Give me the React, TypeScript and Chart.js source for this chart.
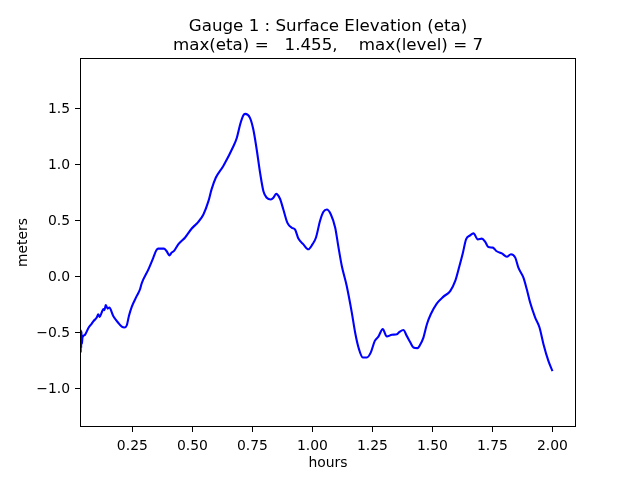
import React, { useEffect, useRef } from "react";
import { Chart, registerables } from "chart.js";

Chart.register(...registerables);

const hours = [
  0.032, 0.033, 0.034, 0.035, 0.036, 0.037, 0.038, 0.04, 0.042, 0.046, 0.053, 0.067, 0.081, 0.0875,
  0.1017, 0.108, 0.114, 0.1225, 0.129, 0.134, 0.139, 0.1475, 0.154, 0.171, 0.192, 0.206, 0.217,
  0.227, 0.236, 0.2475, 0.268, 0.282, 0.289, 0.317, 0.3375, 0.35, 0.358, 0.382, 0.395, 0.404,
  0.414, 0.424, 0.442, 0.47, 0.4975, 0.525, 0.546, 0.567, 0.58, 0.5975, 0.629, 0.671, 0.685,
  0.699, 0.712, 0.72, 0.74, 0.754, 0.768, 0.782, 0.796, 0.81, 0.827, 0.8375, 0.849, 0.865, 0.879,
  0.896, 0.914, 0.928, 0.9417, 0.9625, 0.983, 1.0, 1.015, 1.032, 1.046, 1.06, 1.077, 1.095, 1.108,
  1.1225, 1.143, 1.164, 1.178, 1.192, 1.21, 1.227, 1.243, 1.26, 1.275, 1.293, 1.31, 1.331, 1.352,
  1.3625, 1.379, 1.393, 1.407, 1.421, 1.4375, 1.446, 1.4625, 1.477, 1.493, 1.518, 1.546, 1.574,
  1.595, 1.6125, 1.627, 1.64, 1.657, 1.671, 1.689, 1.706, 1.72, 1.733, 1.752, 1.766, 1.789, 1.81,
  1.827, 1.845, 1.858, 1.879, 1.893, 1.907, 1.928, 1.946, 1.9625, 1.983, 2.0,
];

const eta = [
  -0.48, -0.66, -0.47, -0.68, -0.5, -0.64, -0.49, -0.6, -0.55, -0.53, -0.52, -0.46, -0.42, -0.4,
  -0.366, -0.337, -0.36, -0.32, -0.29, -0.3, -0.255, -0.286, -0.277, -0.355, -0.415, -0.447, -0.455,
  -0.435, -0.35, -0.27, -0.175, -0.113, -0.06, 0.065, 0.17, 0.235, 0.25, 0.25, 0.22, 0.19,
  0.215, 0.23, 0.29, 0.35, 0.43, 0.49, 0.556, 0.675, 0.78, 0.884, 0.99, 1.166, 1.24,
  1.36, 1.44, 1.455, 1.42, 1.315, 1.137, 0.93, 0.764, 0.705, 0.69, 0.705, 0.74, 0.696, 0.6,
  0.48, 0.437, 0.42, 0.34, 0.288, 0.244, 0.288, 0.35, 0.5, 0.58, 0.6, 0.556, 0.437, 0.27,
  0.095, -0.084, -0.32, -0.5, -0.634, -0.723, -0.723, -0.68, -0.575, -0.536, -0.47, -0.536, -0.52, -0.515,
  -0.495, -0.477, -0.53, -0.585, -0.634, -0.64, -0.62, -0.545, -0.426, -0.337, -0.241, -0.179, -0.129,
  -0.039, 0.095, 0.214, 0.333, 0.369, 0.387, 0.333, 0.34, 0.31, 0.264, 0.259, 0.229, 0.208, 0.178,
  0.2, 0.17, 0.08, -0.009, -0.113, -0.232, -0.366, -0.455, -0.604, -0.754, -0.845,
];

const xTicks = [0.25, 0.5, 0.75, 1.0, 1.25, 1.5, 1.75, 2.0];
const yTicks = [-1.0, -0.5, 0.0, 0.5, 1.0, 1.5];
const titleLines = [
  "Gauge 1 : Surface Elevation (eta)",
  "max(eta) =   1.455,    max(level) = 7",
];
const xLabel = "hours";
const yLabel = "meters";
const xRange = [0.032, 2.098];
const yRange = [-1.345, 1.955];

const FONT = "'DejaVu Sans', sans-serif";

export default function App() {
  const ref = useRef<HTMLCanvasElement | null>(null);

  useEffect(() => {
    if (!ref.current) return;
    const framePlugin = {
      id: "frameAndTitle",
      afterDraw(chart: any) {
        const { ctx, chartArea } = chart;
        ctx.save();
        ctx.strokeStyle = "#000";
        ctx.lineWidth = 1;
        const l = Math.round(chartArea.left) + 0.5;
        const t = Math.round(chartArea.top) + 0.5;
        const r = Math.round(chartArea.right) - 0.5;
        const b = Math.round(chartArea.bottom) - 0.5;
        ctx.strokeRect(l, t, r - l, b - t);
        ctx.fillStyle = "#000";
        ctx.font = `16.7px ${FONT}`;
        ctx.textAlign = "center";
        ctx.textBaseline = "alphabetic";
        const cx = (chartArea.left + chartArea.right) / 2;
        ctx.fillText(titleLines[0], cx, 30.5);
        ctx.fillText(titleLines[1], cx, 50);
        ctx.restore();
      },
    };

    const chart = new Chart(ref.current, {
      type: "line",
      data: {
        datasets: [
          {
            data: hours.map((h, i) => ({ x: h, y: eta[i] })),
            borderColor: "#0000ff",
            borderWidth: 2.1,
            pointRadius: 0,
            fill: false,
            cubicInterpolationMode: "monotone",
          },
        ],
      },
      options: {
        animation: false,
        responsive: false,
        layout: { padding: { top: 58, right: 64, left: 0, bottom: 0 } },
        plugins: { legend: { display: false }, tooltip: { enabled: false }, title: { display: false } },
        scales: {
          x: {
            type: "linear",
            min: xRange[0],
            max: xRange[1],
            afterBuildTicks: (s: any) => {
              s.ticks = xTicks.map((v) => ({ value: v }));
            },
            afterFit: (s: any) => {
              s.height = 53;
            },
            grid: { drawOnChartArea: false, drawTicks: true, tickLength: 5, tickColor: "#000", tickWidth: 1 },
            border: { display: false },
            ticks: {
              color: "#000",
              font: { family: FONT, size: 13.9 },
              padding: 6,
              maxRotation: 0,
              autoSkip: false,
              callback: (v: any) => Number(v).toFixed(2),
            },
            title: {
              display: true,
              text: xLabel,
              color: "#000",
              font: { family: FONT, size: 13.9 },
              padding: { top: 0, bottom: 8.5 },
            },
          },
          y: {
            type: "linear",
            min: yRange[0],
            max: yRange[1],
            afterBuildTicks: (s: any) => {
              s.ticks = yTicks.map((v) => ({ value: v }));
            },
            afterFit: (s: any) => {
              s.width = 80;
            },
            grid: { drawOnChartArea: false, drawTicks: true, tickLength: 5, tickColor: "#000", tickWidth: 1 },
            border: { display: false },
            ticks: {
              color: "#000",
              font: { family: FONT, size: 13.9 },
              padding: 5,
              labelOffset: 1,
              autoSkip: false,
              callback: (v: any) => Number(v).toFixed(1).replace("-", "\u2212"),
            },
            title: {
              display: true,
              text: yLabel,
              color: "#000",
              font: { family: FONT, size: 13.9 },
              padding: { top: 15.5, bottom: 0 },
            },
          },
        },
      },
      plugins: [framePlugin],
    } as any);
    return () => chart.destroy();
  }, []);

  return (
    <div style={{ position: "absolute", left: 0, top: 0, width: 640, height: 480, background: "#fff" }}>
      <canvas ref={ref} width={640} height={480} />
    </div>
  );
}
